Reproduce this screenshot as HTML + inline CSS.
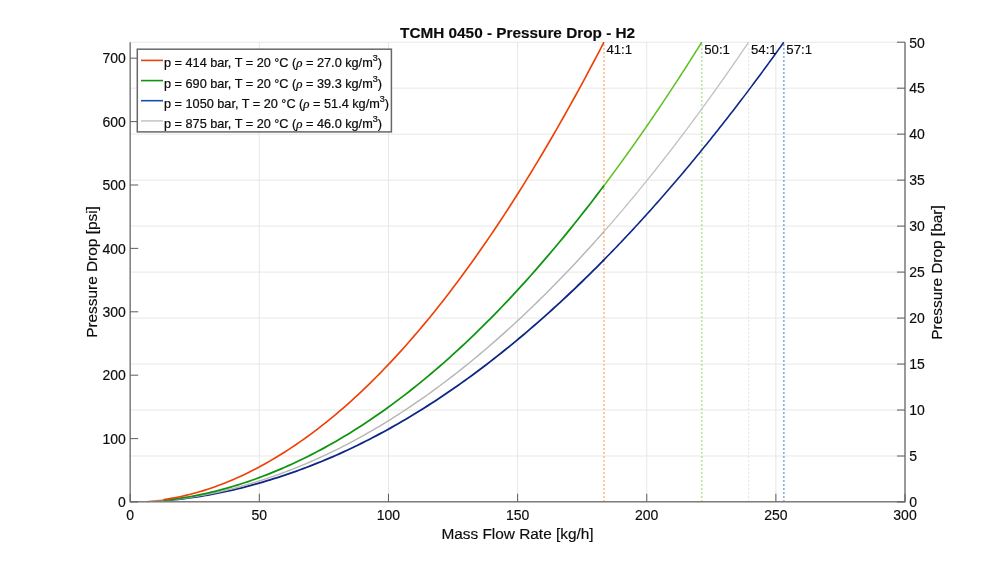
<!DOCTYPE html>
<html><head><meta charset="utf-8"><title>TCMH 0450 - Pressure Drop - H2</title>
<style>
html,body{margin:0;padding:0;background:#fff;width:1000px;height:564px;overflow:hidden;font-family:"Liberation Sans",sans-serif;}
svg{display:block;will-change:transform;}
</style></head><body>
<svg width="1000" height="564" viewBox="0 0 1000 564">
<rect width="1000" height="564" fill="#ffffff"/>
<g stroke="#e7e7e7" stroke-width="1.0" fill="none">
<line x1="130.20" y1="42.2" x2="130.20" y2="502.0"/>
<line x1="259.33" y1="42.2" x2="259.33" y2="502.0"/>
<line x1="388.47" y1="42.2" x2="388.47" y2="502.0"/>
<line x1="517.60" y1="42.2" x2="517.60" y2="502.0"/>
<line x1="646.73" y1="42.2" x2="646.73" y2="502.0"/>
<line x1="775.87" y1="42.2" x2="775.87" y2="502.0"/>
<line x1="905.00" y1="42.2" x2="905.00" y2="502.0"/>
<line x1="130.2" y1="502.00" x2="905.0" y2="502.00"/>
<line x1="130.2" y1="456.02" x2="905.0" y2="456.02"/>
<line x1="130.2" y1="410.04" x2="905.0" y2="410.04"/>
<line x1="130.2" y1="364.06" x2="905.0" y2="364.06"/>
<line x1="130.2" y1="318.08" x2="905.0" y2="318.08"/>
<line x1="130.2" y1="272.10" x2="905.0" y2="272.10"/>
<line x1="130.2" y1="226.12" x2="905.0" y2="226.12"/>
<line x1="130.2" y1="180.14" x2="905.0" y2="180.14"/>
<line x1="130.2" y1="134.16" x2="905.0" y2="134.16"/>
<line x1="130.2" y1="88.18" x2="905.0" y2="88.18"/>
<line x1="130.2" y1="42.20" x2="905.0" y2="42.20"/>
</g>
<line x1="603.92" y1="502" x2="603.92" y2="42.2" stroke="#fcae72" stroke-width="1.7" stroke-dasharray="1.7 2.3" stroke-dashoffset="-0.15"/>
<line x1="701.73" y1="502" x2="701.73" y2="42.2" stroke="#a6dc86" stroke-width="1.7" stroke-dasharray="1.7 2.3" stroke-dashoffset="-0.15"/>
<line x1="748.53" y1="502" x2="748.53" y2="42.2" stroke="#e0e0e0" stroke-width="1.2" stroke-dasharray="1.7 2.3" stroke-dashoffset="-0.15"/>
<line x1="783.82" y1="502" x2="783.82" y2="42.2" stroke="#5f9bd7" stroke-width="1.7" stroke-dasharray="1.7 2.3" stroke-dashoffset="-0.15"/>
<g fill="none" stroke-width="1.6" stroke-linecap="butt" stroke-linejoin="round">
<path d="M602.63,261.18 L604.14,259.65 L605.65,258.11 L607.16,256.56 L608.67,255.02 L610.18,253.46 L611.69,251.90 L613.20,250.34 L614.71,248.77 L616.22,247.20 L617.73,245.62 L619.24,244.04 L620.75,242.45 L622.26,240.86 L623.77,239.26 L625.28,237.66 L626.79,236.05 L628.30,234.44 L629.81,232.83 L631.32,231.20 L632.83,229.58 L634.34,227.95 L635.85,226.31 L637.36,224.67 L638.87,223.02 L640.38,221.37 L641.89,219.71 L643.40,218.05 L644.91,216.39 L646.42,214.72 L647.93,213.04 L649.44,211.36 L650.95,209.68 L652.46,207.99 L653.97,206.29 L655.48,204.59 L656.99,202.89 L658.50,201.18 L660.01,199.46 L661.52,197.74 L663.03,196.02 L664.54,194.29 L666.05,192.55 L667.56,190.81 L669.07,189.07 L670.58,187.32 L672.09,185.57 L673.60,183.81 L675.11,182.04 L676.62,180.28 L678.13,178.50 L679.64,176.72 L681.15,174.94 L682.66,173.15 L684.17,171.36 L685.68,169.56 L687.19,167.76 L688.70,165.95 L690.21,164.14 L691.72,162.32 L693.23,160.50 L694.74,158.67 L696.25,156.84 L697.76,155.00 L699.27,153.16 L700.78,151.31 L702.28,149.46 L703.79,147.61 L705.30,145.74 L706.81,143.88 L708.32,142.01 L709.83,140.13 L711.34,138.25 L712.85,136.36 L714.36,134.47 L715.87,132.58 L717.38,130.68 L718.89,128.77 L720.40,126.86 L721.91,124.94 L723.42,123.02 L724.93,121.10 L726.44,119.17 L727.95,117.23 L729.46,115.29 L730.97,113.35 L732.48,111.40 L733.99,109.44 L735.50,107.49 L737.01,105.52 L738.52,103.55 L740.03,101.58 L741.54,99.60 L743.05,97.61 L744.56,95.63 L746.07,93.63 L747.58,91.63 L749.09,89.63 L750.60,87.62 L752.11,85.61 L753.62,83.59 L755.13,81.57 L756.64,79.54 L758.15,77.51 L759.66,75.47 L761.17,73.43 L762.68,71.38 L764.19,69.33 L765.70,67.27 L767.21,65.21 L768.72,63.14 L770.23,61.07 L771.74,58.99 L773.25,56.91 L774.76,54.82 L776.27,52.73 L777.78,50.63 L779.29,48.53 L780.80,46.43 L782.31,44.32 L783.82,42.20" stroke="#0d2585" stroke-width="1.6"/>
<path d="M146.99,501.67 L148.49,501.60 L150.00,501.54 L151.51,501.46 L153.01,501.38 L154.52,501.30 L156.03,501.21 L157.53,501.12 L159.04,501.02 L160.55,500.91 L162.05,500.80 L163.56,500.69 L165.07,500.57" stroke="#0d2585" stroke-width="1.1" stroke-opacity="0.5"/>
<path d="M163.77,500.67 L167.44,500.37 L171.11,500.03 L174.78,499.67 L178.45,499.27 L182.11,498.85 L185.78,498.39 L189.45,497.90 L193.12,497.39 L196.79,496.84 L200.45,496.27 L204.12,495.66 L207.79,495.03 L211.46,494.36 L215.13,493.67 L218.79,492.95 L222.46,492.20 L226.13,491.42 L229.80,490.61 L233.46,489.77 L237.13,488.91 L240.80,488.02 L244.47,487.09 L248.14,486.15 L251.80,485.17 L255.47,484.16 L259.14,483.13 L262.81,482.07 L266.48,480.98 L270.14,479.87 L273.81,478.73 L277.48,477.56 L281.15,476.36 L284.82,475.14 L288.48,473.89 L292.15,472.62 L295.82,471.32 L299.49,469.99 L303.16,468.63 L306.82,467.25 L310.49,465.84 L314.16,464.41 L317.83,462.95 L321.49,461.46 L325.16,459.94 L328.83,458.39 L332.50,456.81 L336.17,455.20 L339.83,453.56 L343.50,451.90 L347.17,450.21 L350.84,448.48 L354.51,446.73 L358.17,444.95 L361.84,443.14 L365.51,441.30 L369.18,439.44 L372.85,437.54 L376.51,435.61 L380.18,433.66 L383.85,431.68 L387.52,429.67 L391.18,427.63 L394.85,425.56 L398.52,423.46 L402.19,421.33 L405.86,419.18 L409.52,416.99 L413.19,414.78 L416.86,412.53 L420.53,410.26 L424.20,407.96 L427.86,405.63 L431.53,403.28 L435.20,400.89 L438.87,398.47 L442.54,396.03 L446.20,393.55 L449.87,391.05 L453.54,388.52 L457.21,385.96 L460.88,383.37 L464.54,380.75 L468.21,378.11 L471.88,375.43 L475.55,372.73 L479.21,369.99 L482.88,367.23 L486.55,364.44 L490.22,361.62 L493.89,358.77 L497.55,355.89 L501.22,352.98 L504.89,350.05 L508.56,347.08 L512.23,344.09 L515.89,341.07 L519.56,338.02 L523.23,334.94 L526.90,331.83 L530.57,328.69 L534.23,325.52 L537.90,322.33 L541.57,319.10 L545.24,315.85 L548.90,312.57 L552.57,309.26 L556.24,305.92 L559.91,302.55 L563.58,299.15 L567.24,295.72 L570.91,292.27 L574.58,288.78 L578.25,285.27 L581.92,281.73 L585.58,278.16 L589.25,274.56 L592.92,270.93 L596.59,267.27 L600.26,263.58 L603.92,259.87" stroke="#0d2585" stroke-width="1.8"/>
<path d="M602.63,233.06 L603.85,231.68 L605.06,230.30 L606.28,228.91 L607.50,227.52 L608.71,226.13 L609.93,224.73 L611.14,223.33 L612.36,221.92 L613.57,220.52 L614.79,219.10 L616.01,217.69 L617.22,216.27 L618.44,214.85 L619.65,213.42 L620.87,211.99 L622.09,210.56 L623.30,209.12 L624.52,207.69 L625.73,206.24 L626.95,204.79 L628.16,203.34 L629.38,201.89 L630.60,200.43 L631.81,198.97 L633.03,197.51 L634.24,196.04 L635.46,194.57 L636.68,193.09 L637.89,191.61 L639.11,190.13 L640.32,188.65 L641.54,187.16 L642.75,185.66 L643.97,184.17 L645.19,182.67 L646.40,181.16 L647.62,179.66 L648.83,178.14 L650.05,176.63 L651.27,175.11 L652.48,173.59 L653.70,172.07 L654.91,170.54 L656.13,169.01 L657.34,167.47 L658.56,165.93 L659.78,164.39 L660.99,162.84 L662.21,161.29 L663.42,159.74 L664.64,158.18 L665.86,156.62 L667.07,155.06 L668.29,153.49 L669.50,151.92 L670.72,150.35 L671.93,148.77 L673.15,147.19 L674.37,145.60 L675.58,144.01 L676.80,142.42 L678.01,140.82 L679.23,139.22 L680.45,137.62 L681.66,136.01 L682.88,134.40 L684.09,132.79 L685.31,131.17 L686.52,129.55 L687.74,127.93 L688.96,126.30 L690.17,124.67 L691.39,123.04 L692.60,121.40 L693.82,119.76 L695.04,118.11 L696.25,116.46 L697.47,114.81 L698.68,113.15 L699.90,111.49 L701.11,109.83 L702.33,108.16 L703.55,106.49 L704.76,104.82 L705.98,103.14 L707.19,101.46 L708.41,99.78 L709.63,98.09 L710.84,96.40 L712.06,94.70 L713.27,93.00 L714.49,91.30 L715.70,89.59 L716.92,87.89 L718.14,86.17 L719.35,84.46 L720.57,82.74 L721.78,81.01 L723.00,79.29 L724.22,77.56 L725.43,75.82 L726.65,74.08 L727.86,72.34 L729.08,70.60 L730.29,68.85 L731.51,67.10 L732.73,65.34 L733.94,63.58 L735.16,61.82 L736.37,60.06 L737.59,58.29 L738.81,56.51 L740.02,54.74 L741.24,52.96 L742.45,51.17 L743.67,49.38 L744.88,47.59 L746.10,45.80 L747.32,44.00 L748.53,42.20" stroke="#c0c0c0" stroke-width="1.3"/>
<path d="M146.99,501.63 L148.49,501.56 L150.00,501.49 L151.51,501.41 L153.01,501.32 L154.52,501.23 L156.03,501.13 L157.53,501.02 L159.04,500.91 L160.55,500.80 L162.05,500.68 L163.56,500.55 L165.07,500.42" stroke="#b6b6b6" stroke-width="1.1" stroke-opacity="0.5"/>
<path d="M163.77,500.53 L167.44,500.19 L171.11,499.82 L174.78,499.42 L178.45,498.98 L182.11,498.51 L185.78,498.00 L189.45,497.46 L193.12,496.89 L196.79,496.28 L200.45,495.64 L204.12,494.97 L207.79,494.27 L211.46,493.53 L215.13,492.76 L218.79,491.96 L222.46,491.12 L226.13,490.26 L229.80,489.36 L233.46,488.43 L237.13,487.47 L240.80,486.47 L244.47,485.45 L248.14,484.39 L251.80,483.30 L255.47,482.18 L259.14,481.04 L262.81,479.85 L266.48,478.64 L270.14,477.40 L273.81,476.13 L277.48,474.83 L281.15,473.49 L284.82,472.13 L288.48,470.74 L292.15,469.31 L295.82,467.86 L299.49,466.38 L303.16,464.86 L306.82,463.32 L310.49,461.75 L314.16,460.15 L317.83,458.51 L321.49,456.85 L325.16,455.15 L328.83,453.41 L332.50,451.65 L336.17,449.86 L339.83,448.03 L343.50,446.17 L347.17,444.27 L350.84,442.35 L354.51,440.39 L358.17,438.40 L361.84,436.38 L365.51,434.33 L369.18,432.24 L372.85,430.12 L376.51,427.97 L380.18,425.79 L383.85,423.57 L387.52,421.32 L391.18,419.04 L394.85,416.73 L398.52,414.39 L402.19,412.01 L405.86,409.60 L409.52,407.16 L413.19,404.69 L416.86,402.18 L420.53,399.64 L424.20,397.07 L427.86,394.47 L431.53,391.83 L435.20,389.17 L438.87,386.47 L442.54,383.74 L446.20,380.97 L449.87,378.18 L453.54,375.35 L457.21,372.49 L460.88,369.59 L464.54,366.67 L468.21,363.71 L471.88,360.72 L475.55,357.70 L479.21,354.64 L482.88,351.56 L486.55,348.44 L490.22,345.29 L493.89,342.10 L497.55,338.89 L501.22,335.64 L504.89,332.36 L508.56,329.05 L512.23,325.70 L515.89,322.33 L519.56,318.92 L523.23,315.47 L526.90,312.00 L530.57,308.49 L534.23,304.96 L537.90,301.38 L541.57,297.78 L545.24,294.15 L548.90,290.48 L552.57,286.78 L556.24,283.05 L559.91,279.28 L563.58,275.49 L567.24,271.66 L570.91,267.80 L574.58,263.90 L578.25,259.98 L581.92,256.02 L585.58,252.03 L589.25,248.01 L592.92,243.95 L596.59,239.86 L600.26,235.75 L603.92,231.59" stroke="#b6b6b6" stroke-width="1.45"/>
<path d="M602.63,187.43 L603.46,186.33 L604.28,185.23 L605.11,184.13 L605.94,183.03 L606.76,181.92 L607.59,180.82 L608.41,179.71 L609.24,178.60 L610.06,177.49 L610.89,176.38 L611.72,175.26 L612.54,174.14 L613.37,173.02 L614.19,171.90 L615.02,170.78 L615.85,169.65 L616.67,168.53 L617.50,167.40 L618.32,166.27 L619.15,165.14 L619.97,164.00 L620.80,162.86 L621.63,161.73 L622.45,160.59 L623.28,159.44 L624.10,158.30 L624.93,157.15 L625.76,156.01 L626.58,154.86 L627.41,153.70 L628.23,152.55 L629.06,151.39 L629.88,150.24 L630.71,149.08 L631.54,147.92 L632.36,146.75 L633.19,145.59 L634.01,144.42 L634.84,143.25 L635.66,142.08 L636.49,140.91 L637.32,139.73 L638.14,138.56 L638.97,137.38 L639.79,136.20 L640.62,135.01 L641.45,133.83 L642.27,132.64 L643.10,131.46 L643.92,130.27 L644.75,129.07 L645.57,127.88 L646.40,126.68 L647.23,125.49 L648.05,124.29 L648.88,123.08 L649.70,121.88 L650.53,120.68 L651.36,119.47 L652.18,118.26 L653.01,117.05 L653.83,115.83 L654.66,114.62 L655.48,113.40 L656.31,112.18 L657.14,110.96 L657.96,109.74 L658.79,108.52 L659.61,107.29 L660.44,106.06 L661.27,104.83 L662.09,103.60 L662.92,102.36 L663.74,101.13 L664.57,99.89 L665.39,98.65 L666.22,97.41 L667.05,96.16 L667.87,94.92 L668.70,93.67 L669.52,92.42 L670.35,91.17 L671.18,89.92 L672.00,88.66 L672.83,87.41 L673.65,86.15 L674.48,84.89 L675.30,83.62 L676.13,82.36 L676.96,81.09 L677.78,79.82 L678.61,78.55 L679.43,77.28 L680.26,76.01 L681.08,74.73 L681.91,73.45 L682.74,72.17 L683.56,70.89 L684.39,69.60 L685.21,68.32 L686.04,67.03 L686.87,65.74 L687.69,64.45 L688.52,63.16 L689.34,61.86 L690.17,60.56 L690.99,59.26 L691.82,57.96 L692.65,56.66 L693.47,55.36 L694.30,54.05 L695.12,52.74 L695.95,51.43 L696.78,50.12 L697.60,48.80 L698.43,47.49 L699.25,46.17 L700.08,44.85 L700.90,43.52 L701.73,42.20" stroke="#5fc11f" stroke-width="1.55"/>
<path d="M146.99,501.57 L148.49,501.49 L150.00,501.41 L151.51,501.31 L153.01,501.21 L154.52,501.10 L156.03,500.99 L157.53,500.87 L159.04,500.74 L160.55,500.61 L162.05,500.47 L163.56,500.32 L165.07,500.17" stroke="#0e940e" stroke-width="1.1" stroke-opacity="0.5"/>
<path d="M163.77,500.30 L167.44,499.91 L171.11,499.48 L174.78,499.01 L178.45,498.50 L182.11,497.95 L185.78,497.37 L189.45,496.74 L193.12,496.08 L196.79,495.37 L200.45,494.63 L204.12,493.85 L207.79,493.03 L211.46,492.18 L215.13,491.28 L218.79,490.35 L222.46,489.38 L226.13,488.37 L229.80,487.33 L233.46,486.25 L237.13,485.13 L240.80,483.97 L244.47,482.78 L248.14,481.55 L251.80,480.28 L255.47,478.97 L259.14,477.63 L262.81,476.26 L266.48,474.84 L270.14,473.40 L273.81,471.91 L277.48,470.39 L281.15,468.83 L284.82,467.24 L288.48,465.61 L292.15,463.95 L295.82,462.25 L299.49,460.52 L303.16,458.75 L306.82,456.94 L310.49,455.10 L314.16,453.23 L317.83,451.31 L321.49,449.36 L325.16,447.37 L328.83,445.35 L332.50,443.28 L336.17,441.18 L339.83,439.04 L343.50,436.86 L347.17,434.65 L350.84,432.40 L354.51,430.10 L358.17,427.78 L361.84,425.41 L365.51,423.01 L369.18,420.56 L372.85,418.08 L376.51,415.57 L380.18,413.01 L383.85,410.42 L387.52,407.79 L391.18,405.12 L394.85,402.41 L398.52,399.67 L402.19,396.89 L405.86,394.07 L409.52,391.21 L413.19,388.31 L416.86,385.38 L420.53,382.41 L424.20,379.40 L427.86,376.35 L431.53,373.27 L435.20,370.15 L438.87,366.99 L442.54,363.79 L446.20,360.56 L449.87,357.28 L453.54,353.97 L457.21,350.62 L460.88,347.24 L464.54,343.81 L468.21,340.35 L471.88,336.85 L475.55,333.31 L479.21,329.74 L482.88,326.13 L486.55,322.48 L490.22,318.79 L493.89,315.06 L497.55,311.30 L501.22,307.49 L504.89,303.66 L508.56,299.78 L512.23,295.86 L515.89,291.91 L519.56,287.92 L523.23,283.89 L526.90,279.82 L530.57,275.72 L534.23,271.58 L537.90,267.40 L541.57,263.18 L545.24,258.93 L548.90,254.63 L552.57,250.30 L556.24,245.94 L559.91,241.53 L563.58,237.09 L567.24,232.60 L570.91,228.08 L574.58,223.53 L578.25,218.93 L581.92,214.30 L585.58,209.63 L589.25,204.92 L592.92,200.17 L596.59,195.39 L600.26,190.57 L603.92,185.71" stroke="#0e940e" stroke-width="1.75"/>
<path d="M146.99,501.39 L148.49,501.28 L150.00,501.15 L151.51,501.02 L153.01,500.88 L154.52,500.73 L156.03,500.56 L157.53,500.39 L159.04,500.21 L160.55,500.02 L162.05,499.82 L163.56,499.61 L165.07,499.39" stroke="#ee4105" stroke-width="1.1" stroke-opacity="0.5"/>
<path d="M163.77,499.58 L167.44,499.02 L171.11,498.41 L174.78,497.74 L178.45,497.01 L182.11,496.23 L185.78,495.39 L189.45,494.49 L193.12,493.54 L196.79,492.53 L200.45,491.47 L204.12,490.35 L207.79,489.18 L211.46,487.95 L215.13,486.66 L218.79,485.33 L222.46,483.93 L226.13,482.48 L229.80,480.98 L233.46,479.42 L237.13,477.81 L240.80,476.14 L244.47,474.42 L248.14,472.64 L251.80,470.81 L255.47,468.93 L259.14,467.00 L262.81,465.01 L266.48,462.96 L270.14,460.87 L273.81,458.72 L277.48,456.51 L281.15,454.26 L284.82,451.95 L288.48,449.59 L292.15,447.18 L295.82,444.71 L299.49,442.19 L303.16,439.62 L306.82,436.99 L310.49,434.32 L314.16,431.59 L317.83,428.80 L321.49,425.96 L325.16,423.07 L328.83,420.12 L332.50,417.11 L336.17,414.05 L339.83,410.94 L343.50,407.77 L347.17,404.54 L350.84,401.26 L354.51,397.93 L358.17,394.54 L361.84,391.10 L365.51,387.60 L369.18,384.04 L372.85,380.43 L376.51,376.77 L380.18,373.05 L383.85,369.27 L387.52,365.44 L391.18,361.56 L394.85,357.62 L398.52,353.63 L402.19,349.58 L405.86,345.47 L409.52,341.31 L413.19,337.10 L416.86,332.83 L420.53,328.51 L424.20,324.13 L427.86,319.69 L431.53,315.20 L435.20,310.66 L438.87,306.06 L442.54,301.41 L446.20,296.70 L449.87,291.93 L453.54,287.11 L457.21,282.24 L460.88,277.31 L464.54,272.33 L468.21,267.29 L471.88,262.19 L475.55,257.05 L479.21,251.84 L482.88,246.58 L486.55,241.27 L490.22,235.90 L493.89,230.48 L497.55,225.00 L501.22,219.46 L504.89,213.88 L508.56,208.23 L512.23,202.53 L515.89,196.78 L519.56,190.97 L523.23,185.11 L526.90,179.19 L530.57,173.22 L534.23,167.19 L537.90,161.10 L541.57,154.97 L545.24,148.77 L548.90,142.52 L552.57,136.22 L556.24,129.86 L559.91,123.45 L563.58,116.98 L567.24,110.46 L570.91,103.88 L574.58,97.25 L578.25,90.56 L581.92,83.81 L585.58,77.02 L589.25,70.16 L592.92,63.25 L596.59,56.29 L600.26,49.27 L603.92,42.20" stroke="#ee4105" stroke-width="1.65"/>
</g>
<g stroke="#626262" stroke-width="1.05" fill="none">
<path d="M130.2,42.2 L130.2,501.7 L905.0,501.7 L905.0,42.2" stroke="#7e7e7e" stroke-width="1.5"/>
<line x1="130.20" y1="501.7" x2="130.20" y2="493.7"/>
<line x1="259.33" y1="501.7" x2="259.33" y2="493.7"/>
<line x1="388.47" y1="501.7" x2="388.47" y2="493.7"/>
<line x1="517.60" y1="501.7" x2="517.60" y2="493.7"/>
<line x1="646.73" y1="501.7" x2="646.73" y2="493.7"/>
<line x1="775.87" y1="501.7" x2="775.87" y2="493.7"/>
<line x1="905.00" y1="501.7" x2="905.00" y2="493.7"/>
<line x1="130.2" y1="502.00" x2="138.2" y2="502.00"/>
<line x1="130.2" y1="438.60" x2="138.2" y2="438.60"/>
<line x1="130.2" y1="375.19" x2="138.2" y2="375.19"/>
<line x1="130.2" y1="311.79" x2="138.2" y2="311.79"/>
<line x1="130.2" y1="248.38" x2="138.2" y2="248.38"/>
<line x1="130.2" y1="184.98" x2="138.2" y2="184.98"/>
<line x1="130.2" y1="121.58" x2="138.2" y2="121.58"/>
<line x1="130.2" y1="58.17" x2="138.2" y2="58.17"/>
<line x1="905.0" y1="502.00" x2="897.0" y2="502.00"/>
<line x1="905.0" y1="456.02" x2="897.0" y2="456.02"/>
<line x1="905.0" y1="410.04" x2="897.0" y2="410.04"/>
<line x1="905.0" y1="364.06" x2="897.0" y2="364.06"/>
<line x1="905.0" y1="318.08" x2="897.0" y2="318.08"/>
<line x1="905.0" y1="272.10" x2="897.0" y2="272.10"/>
<line x1="905.0" y1="226.12" x2="897.0" y2="226.12"/>
<line x1="905.0" y1="180.14" x2="897.0" y2="180.14"/>
<line x1="905.0" y1="134.16" x2="897.0" y2="134.16"/>
<line x1="905.0" y1="88.18" x2="897.0" y2="88.18"/>
<line x1="905.0" y1="42.20" x2="897.0" y2="42.20"/>
</g>
<g font-family="Liberation Sans, sans-serif" fill="#0c0c0c" stroke="#0c0c0c" stroke-width="0.16">
<text x="130.20" y="519.9" font-size="14.0" text-anchor="middle">0</text>
<text x="259.33" y="519.9" font-size="14.0" text-anchor="middle">50</text>
<text x="388.47" y="519.9" font-size="14.0" text-anchor="middle">100</text>
<text x="517.60" y="519.9" font-size="14.0" text-anchor="middle">150</text>
<text x="646.73" y="519.9" font-size="14.0" text-anchor="middle">200</text>
<text x="775.87" y="519.9" font-size="14.0" text-anchor="middle">250</text>
<text x="905.00" y="519.9" font-size="14.0" text-anchor="middle">300</text>
<text x="125.8" y="507.20" font-size="14.0" text-anchor="end">0</text>
<text x="125.8" y="443.80" font-size="14.0" text-anchor="end">100</text>
<text x="125.8" y="380.39" font-size="14.0" text-anchor="end">200</text>
<text x="125.8" y="316.99" font-size="14.0" text-anchor="end">300</text>
<text x="125.8" y="253.58" font-size="14.0" text-anchor="end">400</text>
<text x="125.8" y="190.18" font-size="14.0" text-anchor="end">500</text>
<text x="125.8" y="126.78" font-size="14.0" text-anchor="end">600</text>
<text x="125.8" y="63.37" font-size="14.0" text-anchor="end">700</text>
<text x="909.3" y="507.30" font-size="14.0" text-anchor="start">0</text>
<text x="909.3" y="461.32" font-size="14.0" text-anchor="start">5</text>
<text x="909.3" y="415.34" font-size="14.0" text-anchor="start">10</text>
<text x="909.3" y="369.36" font-size="14.0" text-anchor="start">15</text>
<text x="909.3" y="323.38" font-size="14.0" text-anchor="start">20</text>
<text x="909.3" y="277.40" font-size="14.0" text-anchor="start">25</text>
<text x="909.3" y="231.42" font-size="14.0" text-anchor="start">30</text>
<text x="909.3" y="185.44" font-size="14.0" text-anchor="start">35</text>
<text x="909.3" y="139.46" font-size="14.0" text-anchor="start">40</text>
<text x="909.3" y="93.48" font-size="14.0" text-anchor="start">45</text>
<text x="909.3" y="47.50" font-size="14.0" text-anchor="start">50</text>
<text x="606.42" y="54.3" font-size="13.2">41:1</text>
<text x="704.23" y="54.3" font-size="13.2">50:1</text>
<text x="751.03" y="54.3" font-size="13.2">54:1</text>
<text x="786.32" y="54.3" font-size="13.2">57:1</text>
<text x="517.5" y="538.7" font-size="15.4" text-anchor="middle">Mass Flow Rate [kg/h]</text>
<text transform="translate(97.2,272) rotate(-90)" font-size="15.4" text-anchor="middle">Pressure Drop [psi]</text>
<text transform="translate(942,272.5) rotate(-90)" font-size="15.4" text-anchor="middle">Pressure Drop [bar]</text>
<text x="517.6" y="37.5" font-size="15.33" font-weight="bold" text-anchor="middle">TCMH 0450 - Pressure Drop - H2</text>
</g>
<rect x="137.3" y="49.2" width="254.09999999999997" height="82.7" fill="#ffffff" stroke="#686868" stroke-width="1.5"/>
<line x1="141" y1="60.4" x2="163" y2="60.4" stroke="#ee4105" stroke-width="1.6"/>
<text x="164.0" y="67.30" font-family="Liberation Sans, sans-serif" font-size="12.7" fill="#0c0c0c" stroke="#0c0c0c" stroke-width="0.22">p = 414 bar, T = 20 °C (<tspan font-family="Liberation Serif, serif" font-style="italic" font-size="13">ρ</tspan> = 27.0 kg/m<tspan font-size="9" dy="-6.0">3</tspan><tspan dy="6.0">)</tspan></text>
<line x1="141" y1="80.6" x2="163" y2="80.6" stroke="#0e940e" stroke-width="1.6"/>
<text x="164.0" y="87.50" font-family="Liberation Sans, sans-serif" font-size="12.7" fill="#0c0c0c" stroke="#0c0c0c" stroke-width="0.22">p = 690 bar, T = 20 °C (<tspan font-family="Liberation Serif, serif" font-style="italic" font-size="13">ρ</tspan> = 39.3 kg/m<tspan font-size="9" dy="-6.0">3</tspan><tspan dy="6.0">)</tspan></text>
<line x1="141" y1="100.7" x2="163" y2="100.7" stroke="#1550b0" stroke-width="1.6"/>
<text x="164.0" y="107.60" font-family="Liberation Sans, sans-serif" font-size="12.7" fill="#0c0c0c" stroke="#0c0c0c" stroke-width="0.22">p = 1050 bar, T = 20 °C (<tspan font-family="Liberation Serif, serif" font-style="italic" font-size="13">ρ</tspan> = 51.4 kg/m<tspan font-size="9" dy="-6.0">3</tspan><tspan dy="6.0">)</tspan></text>
<line x1="141" y1="120.9" x2="163" y2="120.9" stroke="#c8c8c8" stroke-width="1.6"/>
<text x="164.0" y="127.80" font-family="Liberation Sans, sans-serif" font-size="12.7" fill="#0c0c0c" stroke="#0c0c0c" stroke-width="0.22">p = 875 bar, T = 20 °C (<tspan font-family="Liberation Serif, serif" font-style="italic" font-size="13">ρ</tspan> = 46.0 kg/m<tspan font-size="9" dy="-6.0">3</tspan><tspan dy="6.0">)</tspan></text>
</svg>
</body></html>
